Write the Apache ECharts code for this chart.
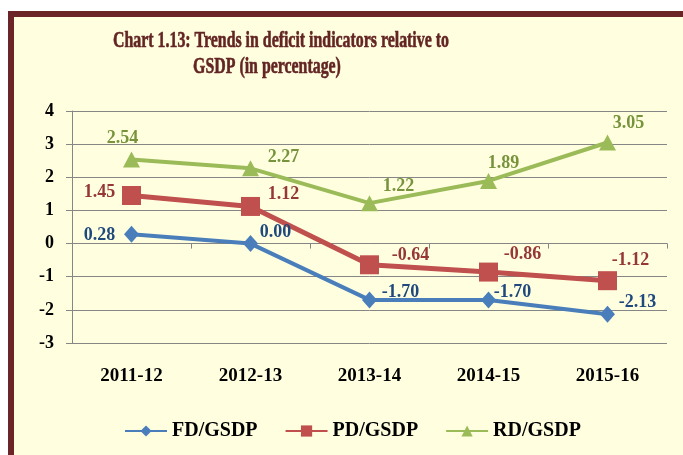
<!DOCTYPE html>
<html>
<head>
<meta charset="utf-8">
<script src="https://cdn.jsdelivr.net/npm/echarts@6/dist/echarts.min.js"></script>
<style>
html,body{margin:0;padding:0;background:#ffffff;}
#chart{width:683px;height:455px;}
</style>
</head>
<body>
<div id="chart"></div>
<script>
var categories = ['2011-12', '2012-13', '2013-14', '2014-15', '2015-16'];
var fdValues = [0.28, 0.00, -1.70, -1.70, -2.13];
var pdValues = [1.45, 1.12, -0.64, -0.86, -1.12];
var rdValues = [2.54, 2.27, 1.22, 1.89, 3.05];
var seriesNames = ['FD/GSDP', 'PD/GSDP', 'RD/GSDP'];
var yTicks = [-3, -2, -1, 0, 1, 2, 3, 4];
var titleLines = ['Chart 1.13: Trends in deficit indicators relative to', 'GSDP (in percentage)'];

var serif = '"Liberation Serif", "Times New Roman", serif';

// label offsets (style only)
var fdOffsets = [[-32, 1], [25, -11], [31, -8], [24, -8], [30, -12]];
var pdOffsets = [[-32, -3], [33, -12], [41, -9], [34, -18], [23, -20]];
var rdOffsets = [[-9, -21], [33, -11], [29, -17], [15, -18], [21, -19]];

function buildData(values, offsets) {
  return values.map(function (v, i) {
    return {
      value: v,
      label: { offset: offsets[i] }
    };
  });
}

function makeSeries(name, values, offsets, lineColor, labelColor, symbol, symbolSize, lineWidth) {
  return {
    name: name,
    type: 'line',
    data: buildData(values, offsets),
    symbol: symbol,
    symbolSize: symbolSize,
    showAllSymbol: true,
    lineStyle: { color: lineColor, width: lineWidth },
    itemStyle: { color: lineColor },
    label: {
      show: true,
      position: 'inside',
      align: 'center',
      verticalAlign: 'middle',
      color: labelColor,
      fontFamily: serif,
      fontWeight: 'bold',
      fontSize: 18,
      formatter: function (p) { return Number(p.value).toFixed(2); }
    },
    emphasis: { disabled: true },
    animation: false,
    z: 3
  };
}

var chart = echarts.init(document.getElementById('chart'), null, { renderer: 'canvas' });

var option = {
  backgroundColor: '#ffffff',
  animation: false,
  graphic: [
    { type: 'rect', z: -100, silent: true, shape: { x: 8, y: 11, width: 700, height: 470 }, style: { fill: '#6B2526' } },
    { type: 'rect', z: -99, silent: true, shape: { x: 14, y: 17, width: 700, height: 470 }, style: { fill: '#FFFFE0' } },
    {
      type: 'text', z: 10, silent: true, x: 281, y: 30, scaleX: 0.69,
      style: { text: titleLines[0], fill: '#632523', stroke: '#632523', lineWidth: 0.6, font: 'bold 23px ' + serif, align: 'center', verticalAlign: 'top' }
    },
    {
      type: 'text', z: 10, silent: true, x: 267, y: 56, scaleX: 0.69,
      style: { text: titleLines[1], fill: '#632523', stroke: '#632523', lineWidth: 0.6, font: 'bold 23px ' + serif, align: 'center', verticalAlign: 'top' }
    }
  ],
  grid: { left: 72, right: 16, top: 111, bottom: 112, containLabel: false },
  legend: {
    data: seriesNames,
    left: 119,
    top: 416,
    itemWidth: 42,
    itemHeight: 14,
    itemGap: 27,
    textStyle: { color: '#000000', fontFamily: serif, fontWeight: 'bold', fontSize: 20 }
  },
  xAxis: [
    {
      type: 'category',
      data: categories,
      boundaryGap: true,
      axisLine: { show: true, onZero: true, lineStyle: { color: '#868686', width: 1 } },
      axisTick: { show: true, length: 5, inside: false, alignWithLabel: false, lineStyle: { color: '#868686' } },
      axisLabel: { show: false },
      splitLine: { show: false }
    },
    {
      type: 'category',
      data: categories,
      position: 'bottom',
      boundaryGap: true,
      axisLine: { show: false, onZero: false },
      axisTick: { show: false },
      axisLabel: { show: true, margin: 24, color: '#000000', fontFamily: serif, fontWeight: 'bold', fontSize: 19 },
      splitLine: { show: false }
    }
  ],
  yAxis: {
    type: 'value',
    min: yTicks[0],
    max: yTicks[yTicks.length - 1],
    interval: 1,
    axisLine: { show: true, lineStyle: { color: '#868686', width: 1 } },
    axisTick: { show: true, length: 6, lineStyle: { color: '#868686' } },
    axisLabel: { margin: 18, color: '#000000', fontFamily: serif, fontWeight: 'bold', fontSize: 18 },
    splitLine: { show: true, lineStyle: { color: '#868686', width: 1 } }
  },
  series: [
    makeSeries(seriesNames[0], fdValues, fdOffsets, '#4A7EBB', '#1F497D', 'diamond', [15, 17], 4),
    makeSeries(seriesNames[1], pdValues, pdOffsets, '#C0504D', '#953735', 'rect', 19, 5),
    makeSeries(seriesNames[2], rdValues, rdOffsets, '#9BBB59', '#77933C', 'triangle', [17, 16], 4)
  ]
};

chart.setOption(option);
</script>
</body>
</html>
